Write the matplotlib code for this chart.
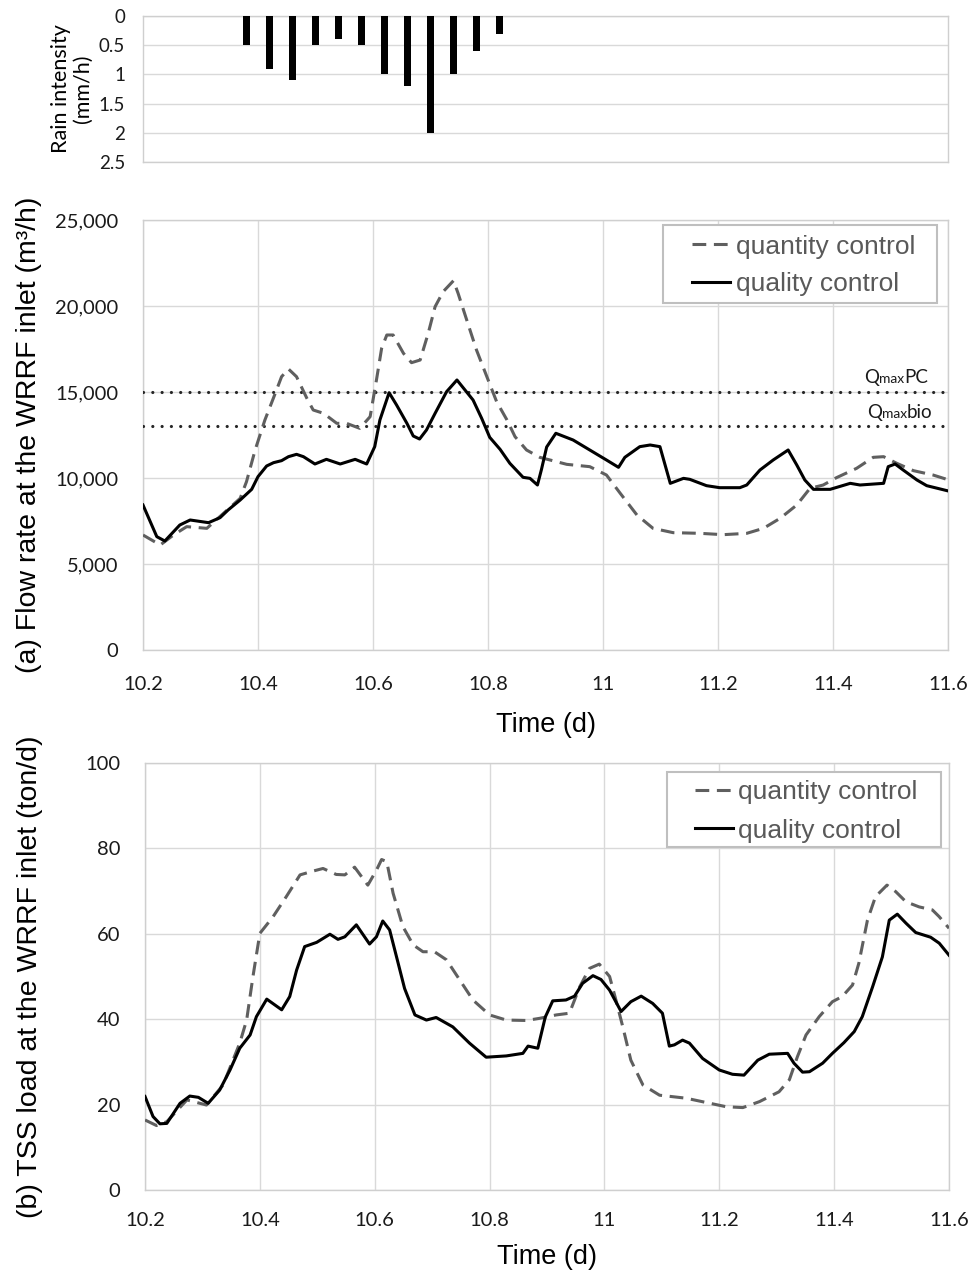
import matplotlib
matplotlib.use("Agg")
import matplotlib.pyplot as plt
from matplotlib.offsetbox import TextArea, HPacker, AnnotationBbox
from matplotlib.patches import Rectangle

# rain event (hourly bars)
rain_t = [10.38, 10.42, 10.46, 10.50, 10.54, 10.58, 10.62, 10.66, 10.70, 10.74, 10.78, 10.82]
rain_i = [0.5, 0.9, 1.1, 0.5, 0.4, 0.5, 1.0, 1.2, 2.0, 1.0, 0.6, 0.3]

# (a) flow rate, quality control (solid)
flow_qual_t = [10.200, 10.224, 10.238, 10.264, 10.282, 10.314, 10.334, 10.348, 10.369, 10.389,
               10.400, 10.415, 10.427, 10.441, 10.453, 10.467, 10.479, 10.499, 10.519, 10.543,
               10.569, 10.589, 10.603, 10.612, 10.628, 10.641, 10.659, 10.670, 10.681, 10.693,
               10.708, 10.728, 10.746, 10.760, 10.774, 10.789, 10.803, 10.821, 10.838, 10.861,
               10.873, 10.886, 10.893, 10.902, 10.918, 10.948, 10.977, 11.006, 11.027, 11.038,
               11.064, 11.082, 11.099, 11.117, 11.140, 11.151, 11.180, 11.203, 11.238, 11.250,
               11.273, 11.296, 11.322, 11.337, 11.351, 11.366, 11.395, 11.430, 11.447, 11.488,
               11.496, 11.508, 11.522, 11.546, 11.563, 11.600]
flow_qual = [8430, 6590, 6337, 7267, 7558, 7403, 7694, 8140, 8720, 9341,
             10078, 10698, 10891, 11008, 11240, 11376, 11240, 10814, 11085, 10814,
             11085, 10814, 11822, 13372, 14961, 14244, 13178, 12442, 12267, 12790,
             13760, 15019, 15698, 15116, 14535, 13469, 12364, 11667, 10853, 10039,
             9980, 9593, 10500, 11800, 12600, 12209, 11628, 11047, 10620, 11202,
             11822, 11919, 11822, 9690, 9980, 9922, 9554, 9437, 9437, 9593,
             10465, 11047, 11628, 10756, 9884, 9341, 9341, 9690, 9593, 9690,
             10659, 10814, 10465, 9884, 9554, 9250]

# (a) flow rate, quantity control (dashed)
flow_quan_t = [10.200, 10.230, 10.253, 10.276, 10.311, 10.340, 10.369, 10.380, 10.395, 10.412,
               10.430, 10.441, 10.453, 10.467, 10.485, 10.496, 10.514, 10.537, 10.554, 10.577,
               10.595, 10.606, 10.615, 10.624, 10.635, 10.653, 10.667, 10.682, 10.696, 10.708,
               10.722, 10.740, 10.748, 10.763, 10.780, 10.798, 10.815, 10.833, 10.847, 10.867,
               10.890, 10.937, 10.977, 11.006, 11.030, 11.059, 11.087, 11.122, 11.169, 11.209,
               11.250, 11.279, 11.308, 11.337, 11.360, 11.383, 11.406, 11.441, 11.470, 11.488,
               11.511, 11.540, 11.574, 11.600]
flow_quan = [6686, 6105, 6686, 7171, 7073, 7946, 8818, 9787, 11628, 13372,
             14922, 15891, 16337, 15891, 14632, 13953, 13760, 13178, 13178, 12888,
             13566, 15698, 17539, 18314, 18314, 17248, 16705, 16860, 18411, 19961,
             20833, 21473, 20736, 19186, 17442, 15891, 14438, 13372, 12403, 11628,
             11202, 10794, 10659, 10174, 9109, 7849, 7073, 6822, 6783, 6705,
             6783, 7073, 7655, 8430, 9399, 9593, 10019, 10562, 11202, 11240,
             10853, 10426, 10174, 9900]

# (b) TSS load, quality control (solid)
tss_qual_t = [10.200, 10.214, 10.226, 10.238, 10.261, 10.278, 10.293, 10.310, 10.330, 10.348,
              10.365, 10.383, 10.394, 10.412, 10.438, 10.452, 10.464, 10.478, 10.499, 10.522,
              10.536, 10.548, 10.568, 10.591, 10.603, 10.614, 10.626, 10.638, 10.652, 10.670,
              10.690, 10.707, 10.736, 10.765, 10.794, 10.829, 10.858, 10.867, 10.884, 10.897,
              10.910, 10.933, 10.948, 10.962, 10.980, 10.994, 11.009, 11.029, 11.046, 11.064,
              11.084, 11.101, 11.113, 11.122, 11.136, 11.148, 11.171, 11.200, 11.223, 11.243,
              11.267, 11.287, 11.319, 11.330, 11.345, 11.357, 11.380, 11.397, 11.417, 11.435,
              11.449, 11.467, 11.484, 11.496, 11.510, 11.525, 11.542, 11.568, 11.583, 11.600]
tss_qual = [21.9, 17.2, 15.5, 15.6, 20.3, 22.0, 21.7, 20.3, 23.4, 28.1,
            33.2, 36.3, 40.6, 44.7, 42.2, 45.3, 51.5, 57.0, 58.0, 59.9,
            58.7, 59.3, 62.1, 57.6, 59.3, 63.0, 60.9, 54.6, 47.2, 41.0,
            39.8, 40.4, 38.2, 34.4, 31.1, 31.4, 32.0, 33.7, 33.2, 40.5,
            44.3, 44.5, 45.4, 48.4, 50.2, 49.3, 46.8, 41.8, 44.1, 45.4,
            43.7, 41.4, 33.7, 34.0, 35.1, 34.4, 30.8, 28.1, 27.1, 26.9,
            30.4, 31.8, 32.0, 29.7, 27.6, 27.7, 29.7, 32.0, 34.5, 37.1,
            40.6, 47.6, 54.6, 63.2, 64.6, 62.5, 60.3, 59.2, 57.8, 55.0]

# (b) TSS load, quantity control (dashed)
tss_quan_t = [10.200, 10.220, 10.238, 10.273, 10.307, 10.336, 10.365, 10.377, 10.388, 10.400,
              10.423, 10.446, 10.470, 10.493, 10.510, 10.533, 10.548, 10.565, 10.577, 10.588,
              10.603, 10.612, 10.621, 10.632, 10.649, 10.667, 10.684, 10.704, 10.725, 10.748,
              10.771, 10.800, 10.829, 10.864, 10.887, 10.916, 10.939, 10.957, 10.974, 10.991,
              11.009, 11.020, 11.032, 11.046, 11.067, 11.096, 11.142, 11.177, 11.212, 11.241,
              11.270, 11.304, 11.322, 11.336, 11.351, 11.374, 11.397, 11.414, 11.432, 11.443,
              11.458, 11.472, 11.492, 11.507, 11.525, 11.548, 11.571, 11.583, 11.600]
tss_quan = [16.4, 15.1, 16.0, 21.1, 19.9, 24.6, 34.4, 39.8, 50.0, 60.1,
            64.0, 68.7, 73.8, 74.7, 75.3, 73.9, 73.8, 75.6, 73.4, 71.4,
            74.9, 77.4, 76.9, 69.5, 61.7, 57.4, 55.8, 55.8, 53.9, 49.2,
            44.5, 41.0, 39.8, 39.7, 40.2, 41.0, 41.4, 47.6, 51.9, 52.9,
            50.0, 44.5, 38.2, 30.4, 24.6, 22.2, 21.5, 20.5, 19.5, 19.3,
            20.7, 23.0, 25.8, 31.2, 36.3, 40.6, 44.1, 45.3, 48.0, 53.1,
            63.2, 68.7, 71.4, 69.9, 67.5, 66.3, 65.6, 64.0, 61.3]

x_ticks = [10.2, 10.4, 10.6, 10.8, 11.0, 11.2, 11.4, 11.6]
x_labels = ["10.2", "10.4", "10.6", "10.8", "11", "11.2", "11.4", "11.6"]
rain_ticks = [0, 0.5, 1, 1.5, 2, 2.5]
rain_labels = ["0", "0.5", "1", "1.5", "2", "2.5"]
flow_ticks = [0, 5000, 10000, 15000, 20000, 25000]
flow_labels = ["0", "5,000", "10,000", "15,000", "20,000", "25,000"]
tss_ticks = [0, 20, 40, 60, 80, 100]
tss_labels = ["0", "20", "40", "60", "80", "100"]
q_pc = 15000
q_bio = 13000

GRID = "#d9d9d9"
TICKFONT = "Lato"
LABELFONT = "Liberation Sans"


def style(ax):
    for s in ax.spines.values():
        s.set_color("#cfcfcf")
        s.set_linewidth(1.0)
    ax.set_axisbelow(True)
    ax.tick_params(length=0, colors="#1a1a1a")


fig = plt.figure(figsize=(9.75, 12.76), dpi=100)
W, H = 975, 1276
ax_r = fig.add_axes([143 / W, 1 - 162 / H, 805 / W, 146 / H])
ax_a = fig.add_axes([143 / W, 1 - 650 / H, 805 / W, 430 / H])
ax_b = fig.add_axes([145 / W, 1 - 1190 / H, 804 / W, 427 / H])

# rain panel
ax_r.bar(rain_t, rain_i, width=0.0105, color="black", zorder=3)
ax_r.set_xlim(10.2, 11.6)
ax_r.set_ylim(2.5, 0)
ax_r.set_xticks([])
ax_r.set_yticks(rain_ticks)
ax_r.set_yticklabels(rain_labels, fontfamily=TICKFONT, fontsize=13.5)
ax_r.grid(axis="y", color=GRID, lw=1.0)
style(ax_r)
ax_r.tick_params(axis="y", pad=13)
ax_r.set_ylabel("Rain intensity\n(mm/h)", fontfamily=TICKFONT, fontsize=15.5,
                linespacing=1.15)
ax_r.yaxis.set_label_coords(-0.062, 0.5)


def lines(ax, t1, v1, t2, v2):
    ax.plot(t1, v1, color="#5f5f5f", lw=2.2, dashes=(4.5, 2.5), label="quantity control", zorder=4)
    ax.plot(t2, v2, color="black", lw=2.2, label="quality control", zorder=5)
    ax.set_xlim(10.2, 11.6)
    ax.set_xticks(x_ticks)
    ax.set_xticklabels(x_labels, fontfamily=TICKFONT, fontsize=14.5)
    ax.grid(True, color=GRID, lw=1.0)
    style(ax)
    ax.set_xlabel("Time (d)", fontfamily=LABELFONT, fontsize=19.5)


# panel (a)
lines(ax_a, flow_quan_t, flow_quan, flow_qual_t, flow_qual)
ax_a.set_ylim(0, 25000)
ax_a.set_yticks(flow_ticks)
ax_a.set_yticklabels(flow_labels, fontfamily=TICKFONT, fontsize=14.5)
ax_a.tick_params(axis="y", pad=18)
ax_a.tick_params(axis="x", pad=19)
ax_a.axhline(q_pc, color="#262626", lw=2.3, linestyle=(0, (0.01, 2.9)),
             dash_capstyle="round", zorder=3)
ax_a.axhline(q_bio, color="#262626", lw=2.3, linestyle=(0, (0.01, 2.9)),
             dash_capstyle="round", zorder=3)
ax_a.set_ylabel("(a) Flow rate at the WRRF inlet (m³/h)", fontfamily=LABELFONT, fontsize=20.5)
ax_a.yaxis.set_label_coords(-0.125, 0.5)
ax_a.xaxis.set_label_coords(0.5, -0.145)


def qlabel(ax, suffix, y, xfrac):
    tp = dict(fontfamily=TICKFONT, color="#1a1a1a")
    parts = [TextArea("Q", textprops=dict(fontsize=13.5, **tp)),
             TextArea("max", textprops=dict(fontsize=10, **tp)),
             TextArea(suffix, textprops=dict(fontsize=13.5, **tp))]
    box = HPacker(children=parts, align="baseline", pad=0, sep=0)
    ab = AnnotationBbox(box, (xfrac, y), xycoords=("axes fraction", "data"),
                        xybox=(0, 4), boxcoords="offset points",
                        box_alignment=(1, 0), frameon=False, pad=0)
    ax.add_artist(ab)


qlabel(ax_a, "PC", q_pc, 0.975)
qlabel(ax_a, "bio", q_bio, 0.981)

# panel (b)
lines(ax_b, tss_quan_t, tss_quan, tss_qual_t, tss_qual)
ax_b.set_ylim(0, 100)
ax_b.set_yticks(tss_ticks)
ax_b.set_yticklabels(tss_labels, fontfamily=TICKFONT, fontsize=14.5)
ax_b.tick_params(axis="y", pad=18)
ax_b.tick_params(axis="x", pad=16)
ax_b.set_ylabel("(b) TSS load at the WRRF inlet (ton/d)", fontfamily=LABELFONT, fontsize=20.5)
ax_b.yaxis.set_label_coords(-0.127, 0.5)
ax_b.xaxis.set_label_coords(0.5, -0.127)

# legends: Excel-style box drawn separately, entries placed inside it
legend_boxes = {ax_a: ((0.646, 0.807, 0.340, 0.181), (0.682, 0.966), 0.5),
                ax_b: ((0.649, 0.803, 0.341, 0.177), (0.684, 0.960), 0.55)}
for ax, (rect, anchor, spacing) in legend_boxes.items():
    x0, y0, w, h = rect
    ax.add_patch(Rectangle((x0, y0), w, h, transform=ax.transAxes, facecolor="white",
                           edgecolor="#bfbfbf", lw=1.5, zorder=6))
    leg = ax.legend(loc="upper left", bbox_to_anchor=anchor, borderaxespad=0,
                    prop=dict(family=LABELFONT, size=19), handlelength=1.45,
                    handletextpad=0.2, borderpad=0, labelspacing=spacing,
                    frameon=False)
    leg.set_zorder(7)
    for txt in leg.get_texts():
        txt.set_color("#595959")

fig.savefig("out.png", dpi=100)
